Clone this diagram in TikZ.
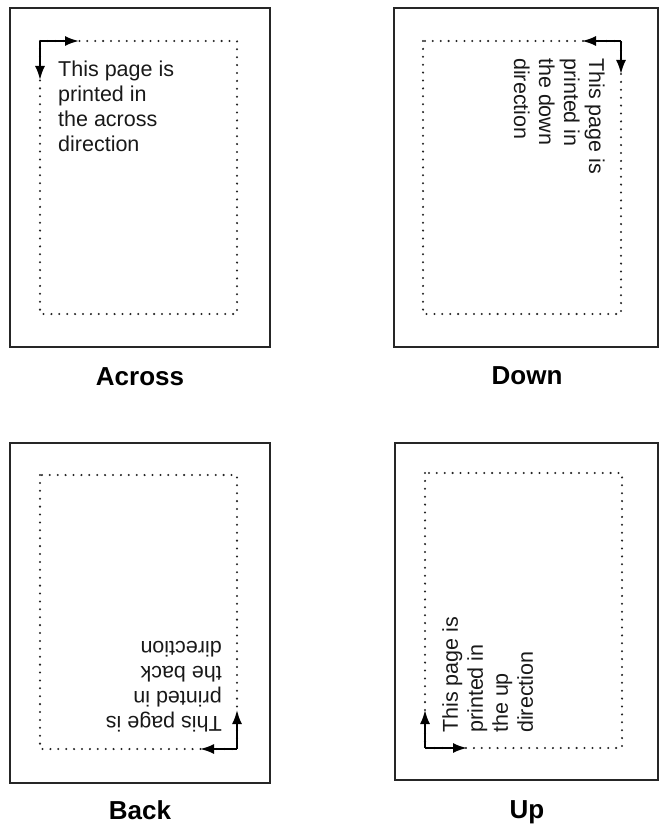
\documentclass[tikz,border=0pt]{standalone}
\usepackage{fontspec}
\setmainfont{Liberation Sans}
\usetikzlibrary{arrows.meta}
\begin{document}
\begin{tikzpicture}[x=1pt,y=-1pt,
  pagebox/.style={draw=black!85,line width=2pt},
  printarea/.style={draw=black!85,line width=2.3pt,dash pattern=on 0pt off 7.9pt,line cap=round},
  dirarrow/.style={draw=black,line width=2pt,-{Latex[length=14pt,width=10pt]}},
  pagetext/.style={inner sep=0pt,align=left,text=black!90,font=\fontsize{21.5}{25}\selectfont},
  caption/.style={font=\fontsize{26}{30}\selectfont\bfseries}]
\useasboundingbox (0,0) rectangle (660,834);
% ---------- Across ----------
\draw[pagebox] (10,8) rectangle (270,347);
\draw[printarea] (40,41) rectangle (237,314);
\coordinate (ac) at (40,41);
\coordinate (ah) at (79,41);
\coordinate (av) at (40,80);
\draw[dirarrow] (ac) -- (ah);
\draw[dirarrow] (ac) -- (av);
\node[pagetext,anchor=north west] (acrosstext) at (58,60.5) {This page is\\printed in\\the across\\direction};
\node[caption] (acrosslabel) at (140,377) {Across};
% ---------- Down ----------
\draw[pagebox] (394,8) rectangle (658,347);
\draw[printarea] (423,41) rectangle (621,314);
\coordinate (dc) at (621,41);
\coordinate (dh) at (582,41);
\coordinate (dv) at (621,74);
\draw[dirarrow] (dc) -- (dh);
\draw[dirarrow] (dc) -- (dv);
\node[pagetext,anchor=north west,rotate=-90] (downtext) at (605,58) {This page is\\printed in\\the down\\direction};
\node[caption] (downlabel) at (527,376) {Down};
% ---------- Back ----------
\draw[pagebox] (10,443) rectangle (270,783);
\draw[printarea] (40,475) rectangle (237,749);
\coordinate (bc) at (237,749);
\coordinate (bh) at (200,749);
\coordinate (bv) at (237,710);
\draw[dirarrow] (bc) -- (bh);
\draw[dirarrow] (bc) -- (bv);
\node[pagetext,anchor=north west,rotate=180] (backtext) at (222,732) {This page is\\printed in\\the back\\direction};
\node[caption] (backlabel) at (140,810) {Back};
% ---------- Up ----------
\draw[pagebox] (395,443) rectangle (658,780);
\draw[printarea] (425,473) rectangle (622,748);
\coordinate (uc) at (425,748);
\coordinate (uh) at (467,748);
\coordinate (uv) at (425,710);
\draw[dirarrow] (uc) -- (uh);
\draw[dirarrow] (uc) -- (uv);
\node[pagetext,anchor=north west,rotate=90] (uptext) at (442,733) {This page is\\printed in\\the up\\direction};
\node[caption] (uplabel) at (527,812) {Up};
\end{tikzpicture}
\end{document}
